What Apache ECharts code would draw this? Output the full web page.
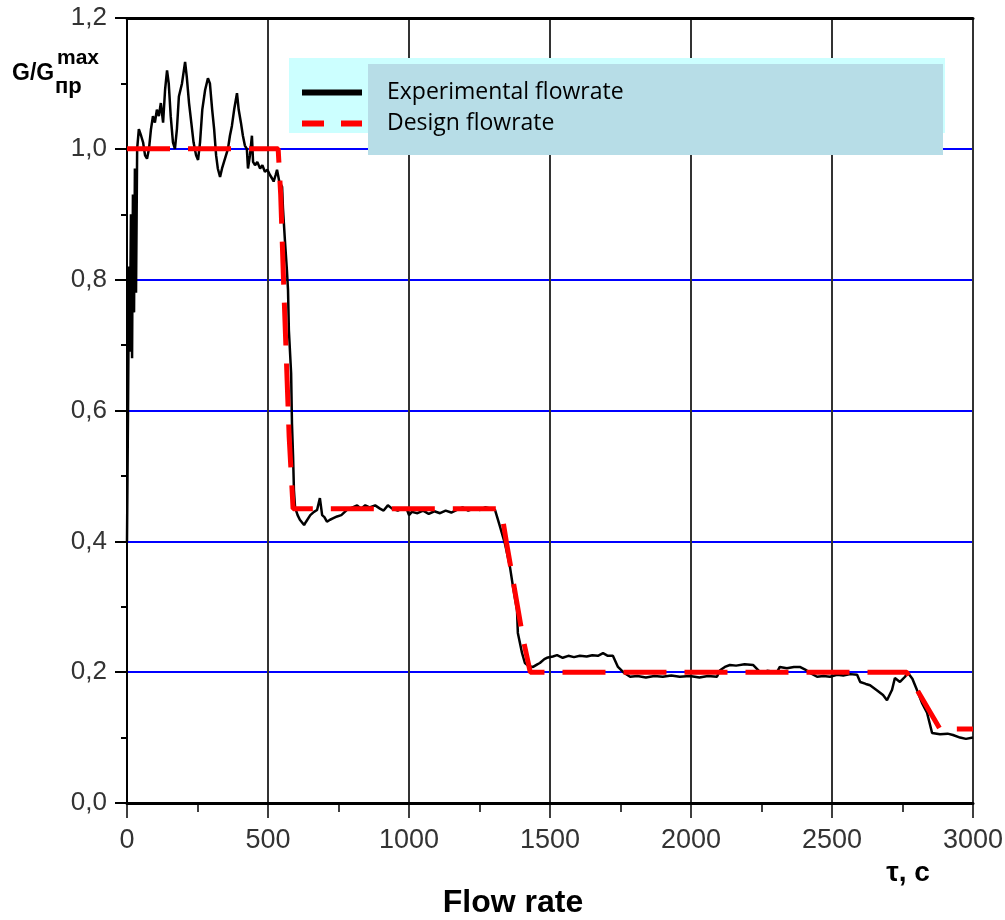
<!DOCTYPE html>
<html>
<head>
<meta charset="utf-8">
<script src="https://cdn.jsdelivr.net/npm/echarts@6/dist/echarts.min.js"></script>
<style>
  html, body { margin: 0; padding: 0; background: #fff; }
  #chart { width: 1005px; height: 920px; }
</style>
</head>
<body>
<div id="chart"></div>
<script>
// time, s (experimental record)
const timeExp = [0, 4, 7, 10, 14, 18, 21, 25, 28, 32, 36, 42, 50, 57, 64, 71, 78, 85, 92, 99,
  106, 113, 120, 128, 135, 142, 148, 155, 163, 170, 177, 184, 195, 206, 212, 220, 228, 236, 245, 252,
  259, 267, 277, 287, 294, 302, 309, 316, 322, 330, 337, 344, 351, 358, 365, 372, 380, 390, 396, 404,
  411, 418, 425, 429, 436, 443, 447, 454, 462, 472, 480, 489, 498, 507, 514, 520, 527, 532, 540, 550,
  553, 560, 567, 571, 574, 582, 585, 589, 592, 596, 605, 613, 620, 628, 635, 642, 650, 663, 674, 684,
  692, 700, 709, 720, 730, 745, 760, 780, 800, 816, 830, 845, 860, 880, 897, 910, 925, 940, 960, 975,
  993, 1000, 1010, 1030, 1050, 1070, 1090, 1110, 1130, 1150, 1170, 1190, 1210, 1230, 1252, 1270, 1290, 1305, 1323, 1340,
  1358, 1369, 1383, 1386, 1401, 1411, 1425, 1440, 1455, 1464, 1480, 1489, 1510, 1525, 1545, 1565, 1585, 1606, 1630, 1650,
  1670, 1688, 1705, 1723, 1741, 1760, 1773, 1784, 1810, 1840, 1870, 1900, 1930, 1960, 1996, 2030, 2060, 2092, 2103, 2120,
  2138, 2160, 2190, 2220, 2245, 2270, 2305, 2315, 2340, 2365, 2386, 2405, 2422, 2447, 2470, 2493, 2518, 2540, 2565, 2589,
  2600, 2620, 2635, 2660, 2681, 2695, 2713, 2723, 2741, 2759, 2769, 2785, 2801, 2819, 2837, 2855, 2883, 2910, 2929, 2954,
  2975, 3000];
// G/G max, experimental
const flowExp = [0.40, 0.62, 0.82, 0.69, 0.90, 0.68, 0.93, 0.75, 0.97, 0.78, 1.00, 1.03, 1.02, 1.01, 0.99, 0.985, 1.00, 1.03, 1.05, 1.04,
  1.06, 1.05, 1.07, 1.04, 1.09, 1.12, 1.10, 1.05, 1.01, 1.00, 1.03, 1.08, 1.10, 1.133, 1.11, 1.07, 1.04, 1.01, 0.99, 0.983,
  1.01, 1.06, 1.09, 1.108, 1.10, 1.06, 1.03, 0.99, 0.97, 0.957, 0.97, 0.98, 0.99, 1.00, 1.02, 1.035, 1.06, 1.085, 1.06, 1.04,
  1.02, 1.005, 1.00, 0.97, 0.99, 1.02, 0.98, 0.975, 0.98, 0.97, 0.975, 0.965, 0.968, 0.96, 0.955, 0.95, 0.96, 0.968, 0.95, 0.942,
  0.91, 0.86, 0.815, 0.784, 0.723, 0.657, 0.58, 0.529, 0.478, 0.452, 0.44, 0.433, 0.43, 0.425, 0.43, 0.428, 0.44, 0.445, 0.448, 0.466,
  0.44, 0.437, 0.43, 0.433, 0.435, 0.438, 0.44, 0.448, 0.452, 0.455, 0.45, 0.455, 0.452, 0.455, 0.45, 0.447, 0.455, 0.45, 0.447, 0.45,
  0.448, 0.44, 0.445, 0.443, 0.447, 0.442, 0.446, 0.443, 0.447, 0.444, 0.448, 0.452, 0.447, 0.45, 0.448, 0.452, 0.45, 0.448, 0.422, 0.397,
  0.361, 0.33, 0.295, 0.26, 0.229, 0.214, 0.209, 0.208, 0.212, 0.214, 0.22, 0.222, 0.224, 0.226, 0.222, 0.225, 0.223, 0.225, 0.224, 0.226,
  0.225, 0.229, 0.225, 0.225, 0.208, 0.2, 0.196, 0.193, 0.194, 0.192, 0.194, 0.193, 0.195, 0.193, 0.194, 0.192, 0.194, 0.193, 0.203, 0.208,
  0.211, 0.21, 0.212, 0.211, 0.2, 0.202, 0.2, 0.208, 0.206, 0.208, 0.208, 0.204, 0.199, 0.193, 0.194, 0.193, 0.196, 0.195, 0.197, 0.196,
  0.185, 0.182, 0.18, 0.172, 0.165, 0.157, 0.173, 0.191, 0.185, 0.193, 0.199, 0.19, 0.173, 0.153, 0.138, 0.107, 0.105, 0.106, 0.104, 0.1,
  0.098, 0.1];
// design (target) curve
const timeDesign = [0, 536, 545, 555, 565, 575, 589, 1310, 1330, 1345, 1365, 1385, 1405, 1430, 2765, 2883, 3000];
const flowDesign = [1.0, 1.0, 0.93, 0.80, 0.68, 0.56, 0.45, 0.45, 0.44, 0.40, 0.35, 0.30, 0.25, 0.20, 0.20, 0.113, 0.113];

const xTicks = [0, 500, 1000, 1500, 2000, 2500, 3000];
const yTicks = [0, 0.2, 0.4, 0.6, 0.8, 1.0, 1.2];

const chart = echarts.init(document.getElementById('chart'), null, { renderer: 'canvas' });
const font = 'Liberation Sans, Arial, sans-serif';
const clear = 'rgba(0,0,0,0)';

chart.setOption({
  backgroundColor: '#fff',
  animation: false,
  grid: { left: 127, right: 32, top: 18, bottom: 117, containLabel: false, outerBoundsMode: 'none' },
  xAxis: [{
    type: 'value', min: xTicks[0], max: xTicks[xTicks.length - 1], interval: 500,
    axisLine: { lineStyle: { color: '#000', width: 3 } },
    axisTick: { length: 15, lineStyle: { color: '#000', width: 1.5 } },
    minorTick: { show: true, splitNumber: 2, length: 9, lineStyle: { color: '#000', width: 1.5 } },
    axisLabel: { margin: 24, color: '#333', fontSize: 27, fontFamily: font, formatter: v => String(v) },
    splitLine: { show: true, lineStyle: { color: '#333', width: 2 } },
  }, {
    type: 'value', position: 'top', min: 0, max: 3000,
    axisLine: { show: true, lineStyle: { color: '#000', width: 3 } },
    axisTick: { show: false }, axisLabel: { show: false }, splitLine: { show: false },
  }],
  yAxis: {
    type: 'value', min: yTicks[0], max: yTicks[yTicks.length - 1], interval: 0.2,
    axisLine: { show: true, lineStyle: { color: '#000', width: 2 } },
    axisTick: { show: true, length: 12, lineStyle: { color: '#000', width: 2 } },
    minorTick: { show: true, splitNumber: 2, length: 6, lineStyle: { color: '#000', width: 2 } },
    axisLabel: {
      margin: 20, color: '#333', fontSize: 26, fontFamily: font,
      formatter: v => v.toFixed(1).replace('.', ','),
    },
    splitLine: { show: true, lineStyle: { color: ['#000', '#0000ff', '#0000ff', '#0000ff', '#0000ff', '#0000ff', '#000'], width: 2 } },
  },
  legend: {
    orient: 'vertical', left: 294, top: 76, z: 10,
    itemWidth: 60, itemHeight: 14, itemGap: 8,
    itemStyle: { color: clear, borderColor: clear, borderWidth: 0 },
    lineStyle: { width: 6 },
    data: [
      { name: 'Experimental flowrate' },
      { name: 'Design flowrate', lineStyle: { type: [22, 17], width: 6 } },
    ],
    textStyle: { fontFamily: 'Open Sans, sans-serif', fontSize: 23, lineHeight: 23, color: '#000', padding: [0, 0, 0, 20] },
  },
  graphic: [
    { type: 'rect', z: 3, shape: { x: 289, y: 58, width: 656, height: 75 }, style: { fill: '#ccffff' } },
    { type: 'rect', z: 3, shape: { x: 368, y: 64, width: 575, height: 91 }, style: { fill: '#b7dde7' } },
    { type: 'text', z: 5, x: 12, y: 74, style: { text: 'G/G', font: 'bold 23px Liberation Sans', fill: '#000', verticalAlign: 'middle' } },
    { type: 'text', z: 5, x: 57, y: 58, style: { text: 'max', font: 'bold 21px Liberation Sans', fill: '#000', verticalAlign: 'middle' } },
    { type: 'text', z: 5, x: 55, y: 87, style: { text: 'пр', font: 'bold 22px Liberation Sans', fill: '#000', verticalAlign: 'middle' } },
    { type: 'text', z: 5, x: 908, y: 873, style: { text: 'τ, с', font: 'bold 28px Liberation Sans', fill: '#000', align: 'center', verticalAlign: 'middle' } },
    { type: 'text', z: 5, x: 513, y: 903, style: { text: 'Flow rate', font: 'bold 32px Liberation Sans', fill: '#000', align: 'center', verticalAlign: 'middle' } },
  ],
  series: [{
    name: 'Experimental flowrate',
    type: 'line',
    data: timeExp.map((t, i) => [t, flowExp[i]]),
    symbol: 'none',
    lineStyle: { color: '#000', width: 2.5 },
    itemStyle: { color: '#000' },
    z: 3,
  }, {
    name: 'Design flowrate',
    type: 'line',
    data: timeDesign.map((t, i) => [t, flowDesign[i]]),
    symbol: 'none',
    lineStyle: { color: '#ff0000', width: 5, type: [43, 18] },
    itemStyle: { color: '#ff0000' },
    z: 4,
  }],
});
</script>
</body>
</html>
